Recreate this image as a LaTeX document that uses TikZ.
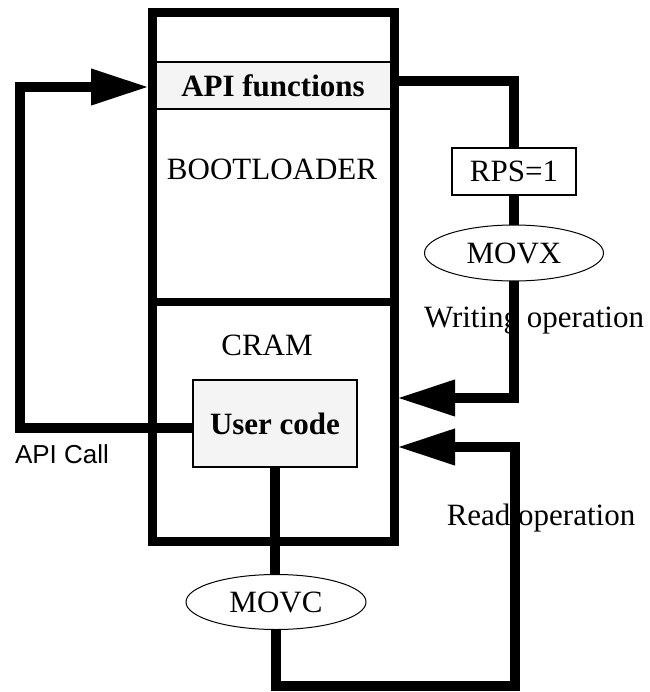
\documentclass[tikz,border=0pt]{standalone}
\usepackage{fontspec}
\setmainfont{Liberation Serif}
\newfontfamily\labsans{Liberation Sans}
\usetikzlibrary{arrows.meta,shapes.geometric}
\definecolor{boxgray}{RGB}{244,244,244}
\begin{document}
\begin{tikzpicture}[x=1pt,y=-1pt,
  txt/.style={font=\fontsize{31}{37}\selectfont, inner sep=0pt},
  wire/.style={line width=10pt, draw=black},
  arr/.style={-{Triangle[length=58pt,width=34pt]}},
  thinbox/.style={draw=black, line width=1.5pt, inner sep=0pt, outer sep=0pt},
  oval/.style={ellipse, draw=black, line width=1pt, fill=white, inner sep=0pt, outer sep=0pt, font=\fontsize{31}{37}\selectfont}
]
\useasboundingbox (0,0) rectangle (649,692);

% labels drawn first (wires pass over them)
\node[txt, anchor=base] (boot) at (272,180) {BOOTLOADER};
\node[txt, anchor=base] (cram) at (267,355) {CRAM};
\node[txt, anchor=base] (wlab) at (534,327) {Writing operation};
\node[txt, anchor=base] (rlab) at (541,525) {Read operation};
\node[anchor=base, inner sep=0pt, font=\labsans\fontsize{26}{31}\selectfont] (call) at (62,463) {API Call};

% API functions band
\node[thinbox, fill=boxgray, minimum width=242pt, minimum height=47pt,
      font=\bfseries\fontsize{31}{37}\selectfont] (api) at (273,85.5) {API functions};

% main memory rectangle
\node[draw=black, line width=9pt, inner sep=0pt, outer sep=3pt,
      minimum width=242pt, minimum height=528pt] (main) at (273,277) {};
\draw[line width=8pt] (main.west |- 0,302) -- (main.east |- 0,302);

% user code box
\node[thinbox, fill=boxgray, minimum width=164pt, minimum height=87pt,
      font=\bfseries\fontsize{31}{37}\selectfont] (user) at (275,423.5) {User code};

% RPS box and ellipses
\node[thinbox, fill=white, minimum width=124pt, minimum height=47pt,
      font=\fontsize{31}{37}\selectfont] (rps) at (514,171.5) {RPS=1};
\node[oval, minimum width=179pt, minimum height=56pt] (movx) at (514,253) {MOVX};
\node[oval, minimum width=180pt, minimum height=55pt] (movc) at (276,602) {MOVC};

% coordinates for bends
\coordinate (cu) at (20,87);
\coordinate (rb) at (515,686);

% connectors
\draw[wire] ([yshift=4pt]api.east) -| (rps.north);
\draw[wire] (rps.south) -- (movx.north);
\draw[wire, arr] (movx.south) |- (main.east |- 0,398);
\draw[wire] (user.south) -- (user.south |- movc.north);
\draw[wire, arr] (movc.south) |- (rb) |- (main.east |- 0,447);
\draw[wire, arr] ([yshift=-4.5pt]user.west) -| (cu) -- (main.west |- cu);
\end{tikzpicture}
\end{document}
